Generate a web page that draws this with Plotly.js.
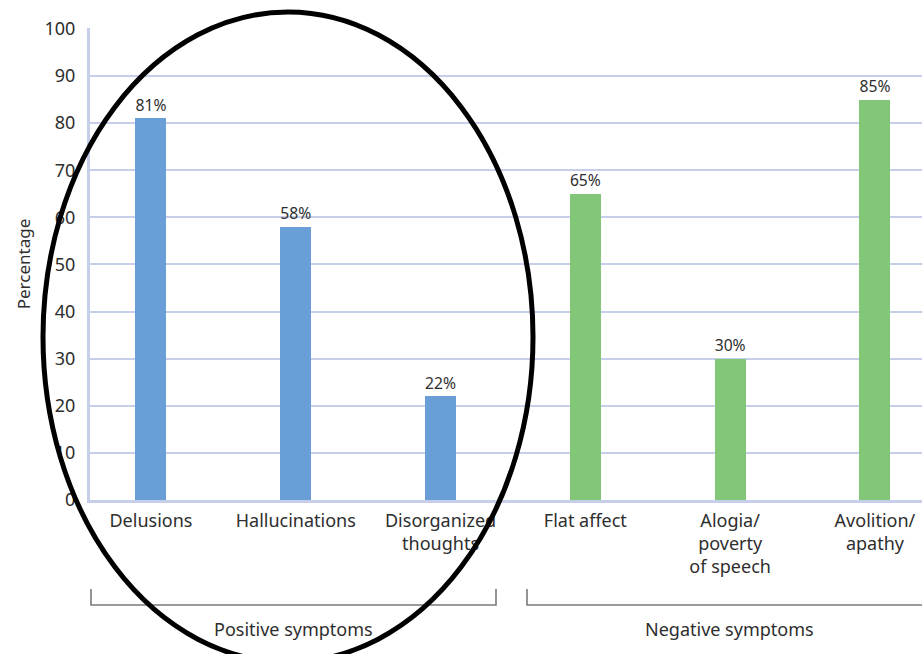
<!DOCTYPE html>
<html>
<head>
<meta charset="utf-8">
<script src="https://cdn.plot.ly/plotly-3.0.1.min.js"></script>
<style>
  html, body { margin: 0; padding: 0; background: #ffffff; }
  #chart { width: 922px; height: 654px; }
</style>
</head>
<body>
<div id="chart"></div>
<script>
// Symptom prevalence data
const categories = ['Delusions', 'Hallucinations', 'Disorganized thoughts',
                    'Flat affect', 'Alogia/poverty of speech', 'Avolition/apathy'];
const tickLabels = ['Delusions', 'Hallucinations', 'Disorganized<br>thoughts',
                    'Flat affect', 'Alogia/<br>poverty<br>of speech', 'Avolition/<br>apathy'];
const positiveSymptoms = ['Delusions', 'Hallucinations', 'Disorganized thoughts'];
const positiveValues = [81, 58, 22];
const negativeSymptoms = ['Flat affect', 'Alogia/poverty of speech', 'Avolition/apathy'];
const negativeValues = [65, 30, 85];
const groupLabels = ['Positive symptoms', 'Negative symptoms'];
const yTicks = [0, 10, 20, 30, 40, 50, 60, 70, 80, 90, 100];

const FONT = 'Noto Sans, Lato, sans-serif';
const TEXT = '#2e2e2e';
const GRID = '#c6cee9';

// plot box in pixels
const W = 922, H = 654;
const L = 90, R = 0, T = 28, B = 154;
const pw = W - L - R, ph = H - T - B;
const px = x => (x - L) / pw;          // pixel -> paper x
const py = y => (H - B - y) / ph;      // pixel -> paper y

const barStyle = (color) => ({
  type: 'bar',
  width: 0.214,
  marker: { color: color, line: { width: 0 } },
  texttemplate: '%{y}%',
  textposition: 'outside',
  cliponaxis: false,
  textfont: { family: FONT, size: 17, color: TEXT },
  hoverinfo: 'x+y',
  showlegend: false
});

const traces = [
  Object.assign(barStyle('#6a9ed6'), { x: positiveSymptoms, y: positiveValues, name: 'Positive' }),
  Object.assign(barStyle('#82c678'), { x: negativeSymptoms, y: negativeValues, name: 'Negative' })
];

const bracket = '#7a7a7a';
const shapes = [
  // group brackets under the category labels
  { type: 'path', xref: 'paper', yref: 'paper',
    path: `M ${px(91)} ${py(589)} L ${px(91)} ${py(605)} L ${px(496)} ${py(605)} L ${px(496)} ${py(589)}`,
    line: { color: bracket, width: 1.6 } },
  { type: 'path', xref: 'paper', yref: 'paper',
    path: `M ${px(527)} ${py(589)} L ${px(527)} ${py(605)} L ${px(930)} ${py(605)}`,
    line: { color: bracket, width: 1.6 } },
  // ring around the positive symptoms
  { type: 'circle', xref: 'paper', yref: 'paper',
    x0: px(43), x1: px(533), y0: py(12), y1: py(662),
    line: { color: '#000000', width: 5 }, fillcolor: 'rgba(0,0,0,0)', layer: 'above' }
];

const groupFont = { family: FONT, size: 18, color: TEXT };
const annotations = [
  { text: groupLabels[0], xref: 'paper', yref: 'paper', x: px(293), y: py(629),
    xanchor: 'center', yanchor: 'middle', showarrow: false, font: groupFont },
  { text: groupLabels[1], xref: 'paper', yref: 'paper', x: px(729), y: py(629),
    xanchor: 'center', yanchor: 'middle', showarrow: false, font: groupFont }
];

const layout = {
  width: W, height: H,
  margin: { l: L, r: R, t: T, b: B, pad: 0 },
  paper_bgcolor: '#ffffff',
  plot_bgcolor: '#ffffff',
  font: { family: FONT, color: TEXT, size: 17 },
  bargap: 0,
  xaxis: {
    type: 'category',
    categoryorder: 'array',
    categoryarray: categories,
    tickvals: categories,
    ticktext: tickLabels,
    range: [-0.421, 5.325],
    showgrid: false,
    zeroline: false,
    showline: true,
    linecolor: GRID,
    linewidth: 3,
    ticks: '',
    ticklabelstandoff: 2,
    tickfont: { family: FONT, size: 18, color: TEXT },
    fixedrange: true
  },
  yaxis: {
    range: [0, 100.2],
    tickvals: yTicks,
    showgrid: true,
    gridcolor: GRID,
    gridwidth: 2,
    zeroline: false,
    showline: true,
    linecolor: GRID,
    linewidth: 3,
    ticks: '',
    ticklabelstandoff: 8,
    tickfont: { family: FONT, size: 18, color: TEXT },
    title: { text: 'Percentage', font: { family: FONT, size: 17, color: TEXT }, standoff: 10 },
    fixedrange: true
  },
  shapes: shapes,
  annotations: annotations
};

Plotly.newPlot('chart', traces, layout, { displayModeBar: false, staticPlot: true });
</script>
</body>
</html>
